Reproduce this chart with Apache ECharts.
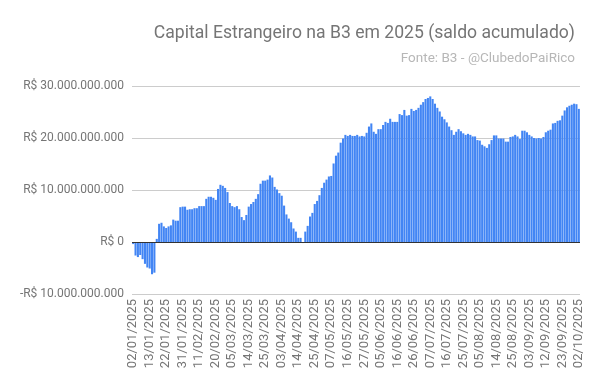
<!DOCTYPE html>
<html>
<head>
<meta charset="utf-8">
<script src="https://cdn.jsdelivr.net/npm/echarts@6/dist/echarts.min.js"></script>
<style>
html,body{margin:0;padding:0;background:#fff;}
#chart{width:600px;height:385px;}
</style>
</head>
<body>
<div id="chart"></div>
<script>
const dates = [
"02/01/2025","03/01/2025","06/01/2025","07/01/2025","08/01/2025","09/01/2025","10/01/2025","13/01/2025","14/01/2025","15/01/2025","16/01/2025","17/01/2025","20/01/2025","21/01/2025","22/01/2025","23/01/2025","24/01/2025","27/01/2025","28/01/2025","29/01/2025","30/01/2025","31/01/2025",
"03/02/2025","04/02/2025","05/02/2025","06/02/2025","07/02/2025","10/02/2025","11/02/2025","12/02/2025","13/02/2025","14/02/2025","17/02/2025","18/02/2025","19/02/2025","20/02/2025","21/02/2025","24/02/2025","25/02/2025","26/02/2025","27/02/2025","28/02/2025",
"05/03/2025","06/03/2025","07/03/2025","10/03/2025","11/03/2025","12/03/2025","13/03/2025","14/03/2025","17/03/2025","18/03/2025","19/03/2025","20/03/2025","21/03/2025","24/03/2025","25/03/2025","26/03/2025","27/03/2025","28/03/2025","31/03/2025",
"01/04/2025","02/04/2025","03/04/2025","04/04/2025","07/04/2025","08/04/2025","09/04/2025","10/04/2025","11/04/2025","14/04/2025","15/04/2025","16/04/2025","17/04/2025","22/04/2025","23/04/2025","24/04/2025","25/04/2025","28/04/2025","29/04/2025","30/04/2025",
"02/05/2025","05/05/2025","06/05/2025","07/05/2025","08/05/2025","09/05/2025","12/05/2025","13/05/2025","14/05/2025","15/05/2025","16/05/2025","19/05/2025","20/05/2025","21/05/2025","22/05/2025","23/05/2025","26/05/2025","27/05/2025","28/05/2025","29/05/2025","30/05/2025",
"02/06/2025","03/06/2025","04/06/2025","05/06/2025","06/06/2025","09/06/2025","10/06/2025","11/06/2025","12/06/2025","13/06/2025","16/06/2025","17/06/2025","18/06/2025","20/06/2025","23/06/2025","24/06/2025","25/06/2025","26/06/2025","27/06/2025","30/06/2025",
"01/07/2025","02/07/2025","03/07/2025","04/07/2025","07/07/2025","08/07/2025","09/07/2025","10/07/2025","11/07/2025","14/07/2025","15/07/2025","16/07/2025","17/07/2025","18/07/2025","21/07/2025","22/07/2025","23/07/2025","24/07/2025","25/07/2025","28/07/2025","29/07/2025","30/07/2025","31/07/2025",
"01/08/2025","04/08/2025","05/08/2025","06/08/2025","07/08/2025","08/08/2025","11/08/2025","12/08/2025","13/08/2025","14/08/2025","15/08/2025","18/08/2025","19/08/2025","20/08/2025","21/08/2025","22/08/2025","25/08/2025","26/08/2025","27/08/2025","28/08/2025","29/08/2025",
"01/09/2025","02/09/2025","03/09/2025","04/09/2025","05/09/2025","08/09/2025","09/09/2025","10/09/2025","11/09/2025","12/09/2025","15/09/2025","16/09/2025","17/09/2025","18/09/2025","19/09/2025","22/09/2025","23/09/2025","24/09/2025","25/09/2025","26/09/2025","29/09/2025","30/09/2025",
"01/10/2025","02/10/2025"
];

// saldo acumulado, em bilhões de R$
const saldoBilhoes = [
-0.4,-2.6,-2.9,-2.5,-3.3,-4.2,-4.9,-5.1,-6.2,-5.9,
0.6,3.5,3.7,3.0,2.7,3.0,3.2,4.3,4.1,4.1,
6.7,6.8,6.8,6.2,6.3,6.3,6.5,6.5,6.9,6.9,
6.9,8.3,8.7,8.7,8.5,8.1,10.2,11.0,10.8,10.4,
9.6,7.5,6.9,6.7,6.9,6.3,4.8,4.2,5.2,6.8,
7.3,7.7,8.3,9.2,11.2,11.8,11.8,12.0,12.8,12.4,
10.6,10.1,9.4,8.9,7.0,5.3,4.5,3.8,2.6,2.0,
0.8,0.8,-0.2,2.0,3.1,4.9,5.6,7.3,7.9,9.0,
10.4,11.4,12.0,12.6,12.7,15.1,16.6,17.2,19.1,19.9,
20.6,20.4,20.6,20.4,20.4,20.6,20.3,20.4,20.3,21.0,
22.2,22.8,21.2,20.8,21.7,21.7,22.5,23.1,22.9,23.7,
23.1,23.1,23.1,24.6,24.4,25.4,24.3,24.4,25.6,25.2,
25.4,25.8,26.4,26.9,27.5,27.7,28.0,27.5,26.6,25.8,
25.1,24.1,23.6,23.0,22.2,21.5,20.6,21.2,21.7,21.3,
20.9,20.6,20.8,20.6,20.3,20.3,19.6,19.5,18.7,18.4,
18.1,18.8,19.6,20.5,20.5,19.9,19.9,19.9,19.3,19.3,
20.2,20.3,20.6,20.3,19.8,21.4,21.4,21.1,20.6,20.3,
20.0,19.9,20.0,19.9,20.2,21.1,21.4,21.6,22.8,22.9,
23.3,23.4,24.3,25.3,25.9,26.2,26.4,26.6,26.5,25.6
];

const yTicks = [-10, 0, 10, 20, 30];
const titleText = "Capital Estrangeiro na B3 em 2025 (saldo acumulado)";
const subText = "Fonte: B3 - @ClubedoPaiRico";

function fmtReais(b) {
  if (b === 0) return "R$ 0";
  const n = Math.round(Math.abs(b) * 1e9);
  const s = n.toString().replace(/\B(?=(\d{3})+(?!\d))/g, ".");
  return (b < 0 ? "-" : "") + "R$ " + s;
}

const chart = echarts.init(document.getElementById('chart'), null, {renderer: 'canvas'});
chart.setOption({
  animation: false,
  backgroundColor: '#ffffff',
  textStyle: {fontFamily: 'Roboto'},
  title: [
    {text: titleText, right: 20, top: 20,
     textStyle: {fontFamily: 'Roboto', fontSize: 17.6, fontWeight: 'normal', color: '#757575'}},
    {text: subText, right: 20, top: 47,
     textStyle: {fontFamily: 'Roboto', fontSize: 13.5, fontWeight: 'normal', color: '#b7b7b7'}}
  ],
  grid: {left: 132, right: 20, top: 86, bottom: 91, containLabel: false},
  xAxis: {
    type: 'category',
    data: dates,
    boundaryGap: true,
    axisLine: {show: false, onZero: false},
    axisTick: {show: false},
    splitLine: {show: false},
    axisLabel: {interval: 6, rotate: 90, fontFamily: 'Roboto', fontSize: 13, color: '#757575', margin: 5}
  },
  yAxis: {
    type: 'value',
    min: yTicks[0], max: yTicks[yTicks.length - 1], interval: 10,
    axisLine: {show: false},
    axisTick: {show: false},
    splitLine: {lineStyle: {color: '#cccccc', width: 1}},
    axisLabel: {fontFamily: 'Roboto', fontSize: 12, color: '#757575', margin: 8,
      formatter: v => fmtReais(v)}
  },
  series: [{
    type: 'bar',
    data: saldoBilhoes,
    barCategoryGap: '12%',
    itemStyle: {color: '#4285f4'},
    markLine: {
      silent: true,
      symbol: ['none', 'none'],
      label: {show: false},
      lineStyle: {color: '#333333', width: 1, type: 'solid'},
      data: [{yAxis: 0}]
    }
  }]
});
</script>
</body>
</html>
